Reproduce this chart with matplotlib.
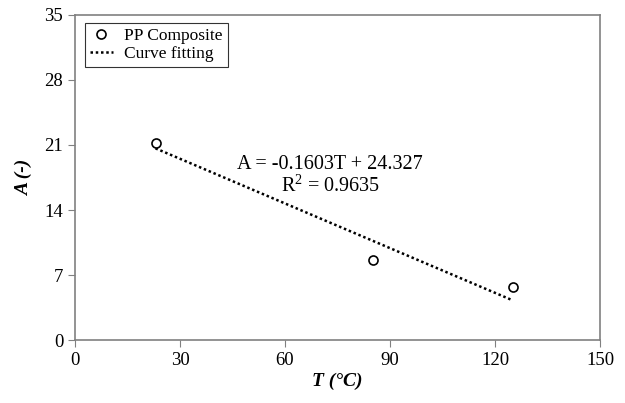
import matplotlib.pyplot as plt
import matplotlib

matplotlib.rcParams['font.family'] = ['Liberation Serif', 'DejaVu Serif']
matplotlib.rcParams['mathtext.fontset'] = 'custom'
matplotlib.rcParams['mathtext.rm'] = 'Liberation Serif'

# 数据
temp = [23, 85, 125]
a_val = [21.2, 8.6, 5.7]
fit_t = [23, 125]
fit_a = [20.64, 4.29]
x_ticks = [0, 30, 60, 90, 120, 150]
y_ticks = [0, 7, 14, 21, 28, 35]

fig = plt.figure(figsize=(6.25, 4.03), dpi=100)
ax = fig.add_axes([0.12, 0.156, 0.84, 0.807])

ax.plot(temp, a_val, 'o', mfc='white', mec='black', mew=1.2, ms=6.5,
        label='PP Composite', zorder=3)
ax.plot(fit_t, fit_a, color='black', lw=1.8, linestyle=(0, (1, 1.1)),
        label='Curve fitting')

ax.set_xlim(0, 150)
ax.set_ylim(0, 35)
ax.set_xticks(x_ticks)
ax.set_yticks(y_ticks)
ax.tick_params(labelsize=13.5, length=5, color='#808080', direction='out')

for s in ax.spines.values():
    s.set_color('#808080')
    s.set_linewidth(1.2)

ax.set_xlabel('T (°C)', fontsize=14, fontweight='bold', style='italic', labelpad=3)
ax.set_ylabel('A (-)', fontsize=14, fontweight='bold', style='italic', labelpad=8)

# 拟合公式
ax.text(0.486, 0.505, 'A = -0.1603T + 24.327\nR$^2$ = 0.9635', transform=ax.transAxes,
        fontsize=14.5, ha='center', va='center', linespacing=1.05)

leg = ax.legend(loc='upper left', bbox_to_anchor=(0.019, 0.975), borderaxespad=0,
                fontsize=12.5, frameon=True, fancybox=False, edgecolor='black',
                borderpad=0.3, handlelength=1.3, handletextpad=0.65, labelspacing=0.1)
leg.get_frame().set_linewidth(0.8)

plt.savefig('out.png', dpi=100)
